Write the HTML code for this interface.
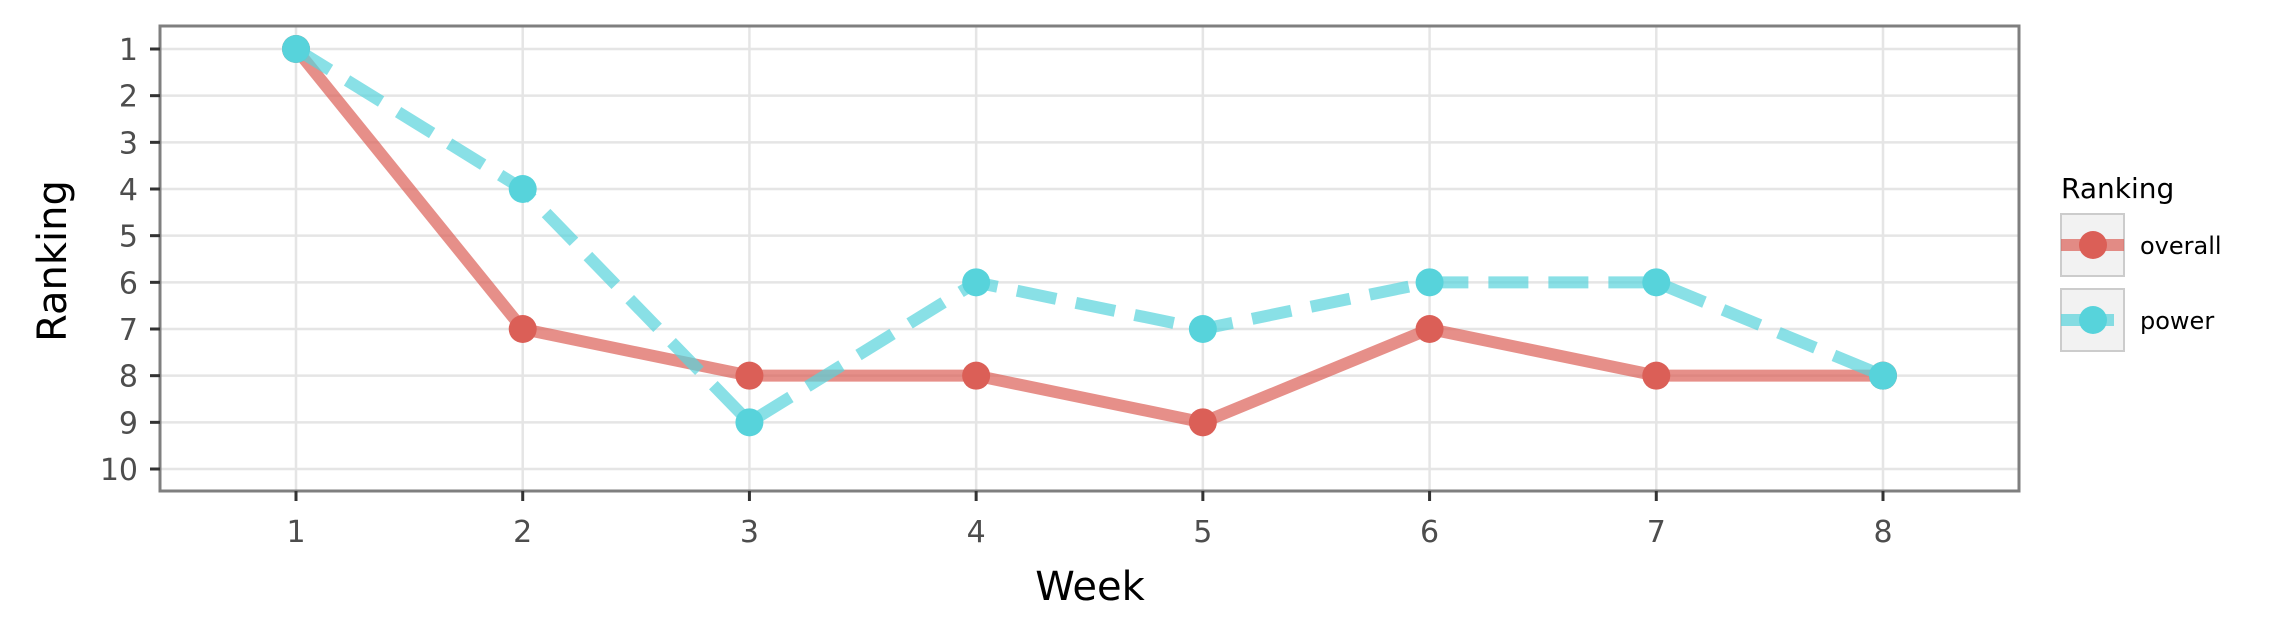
<!DOCTYPE html>
<html><head><meta charset="utf-8"><style>
html,body{margin:0;padding:0;background:#fff;}
svg{display:block;font-family:"DejaVu Sans","Liberation Sans",sans-serif;}
</style></head><body>
<svg id="chart" width="2276" height="641" viewBox="0 0 2276 641">
<g id="grid"></g>
<g id="series"></g>
<rect x="160" y="26" width="1859" height="465" fill="none" stroke="#7f7f7f" stroke-width="3"/>
<g id="axes"></g>
<text x="1090" y="600" font-size="40" text-anchor="middle" fill="#000">Week</text>
<text transform="translate(66,261) rotate(-90)" font-size="40" text-anchor="middle" fill="#000">Ranking</text>
<g>
<text x="2061" y="198" font-size="28" fill="#000">Ranking</text>
<g>
<rect x="2061" y="214" width="63" height="62" fill="#f2f2f2" stroke="#cccccc" stroke-width="2"/>
<line x1="2061" y1="245" x2="2124" y2="245" stroke="#DB5F57" stroke-opacity="0.7" stroke-width="12"/>
<circle cx="2093" cy="245" r="14" fill="#DB5F57"/>
<text x="2140" y="254" font-size="24" fill="#000">overall</text>
</g>
<g>
<rect x="2061" y="289" width="63" height="62" fill="#f2f2f2" stroke="#cccccc" stroke-width="2"/>
<line x1="2061" y1="320" x2="2114" y2="320" stroke="#57D3DB" stroke-opacity="0.7" stroke-width="12"/>
<circle cx="2093" cy="320" r="14" fill="#57D3DB"/>
<text x="2140" y="329" font-size="24" fill="#000">power</text>
</g>
</g>
</svg>
<script>
const weeks = [1,2,3,4,5,6,7,8];
const overall = [1,7,8,8,9,7,8,8];
const power = [1,4,9,6,7,6,6,8];
const yTicks = [1,2,3,4,5,6,7,8,9,10];
const xTicks = [1,2,3,4,5,6,7,8];

const NS = "http://www.w3.org/2000/svg";
function xs(w){ return 296 + (w-1)*(1883-296)/7; }
function ys(r){ return 49 + (r-1)*(469-49)/9; }
function mk(tag, attrs, parent){ const e=document.createElementNS(NS,tag); for(const k in attrs) e.setAttribute(k,attrs[k]); parent.appendChild(e); return e; }

const grid=document.getElementById('grid'), axes=document.getElementById('axes'), series=document.getElementById('series');
yTicks.forEach(t=>{
  const g=mk('line',{x1:160,x2:2019,y1:ys(t),y2:ys(t),stroke:'#e5e5e5','stroke-width':2.5},grid);
  
  
  const tk=mk('line',{x1:150,x2:160,y1:ys(t),y2:ys(t),stroke:'#333','stroke-width':3},axes);
  
  
  const lb=mk('text',{x:138,y:ys(t)+11,'font-size':30,'text-anchor':'end',fill:'#4d4d4d'},axes);
  lb.textContent=t;
  
  
});
xTicks.forEach(t=>{
  const g=mk('line',{x1:xs(t),x2:xs(t),y1:26,y2:491,stroke:'#e5e5e5','stroke-width':2.5},grid);
  
  
  const tk=mk('line',{x1:xs(t),x2:xs(t),y1:491,y2:501,stroke:'#333','stroke-width':3},axes);
  
  
  const lb=mk('text',{x:xs(t),y:542,'font-size':30,'text-anchor':'middle',fill:'#4d4d4d'},axes);
  lb.textContent=t;
  
  
});
function draw(vals,color,dash,name){
  const pts=weeks.map((w,i)=>xs(w)+','+ys(vals[i])).join(' ');
  const pl=mk('polyline',{points:pts,fill:'none',stroke:color,'stroke-opacity':0.7,'stroke-width':12,'stroke-linejoin':'round'},series);
  if(dash) pl.setAttribute('stroke-dasharray',dash);
  
  
  weeks.forEach((w,i)=>{
    const c=mk('circle',{cx:xs(w),cy:ys(vals[i]),r:14,fill:color},series);
    
    
  });
}
draw(overall,'#DB5F57',null,'overall');
draw(power,'#57D3DB','40 20','power');
</script>
</body></html>
